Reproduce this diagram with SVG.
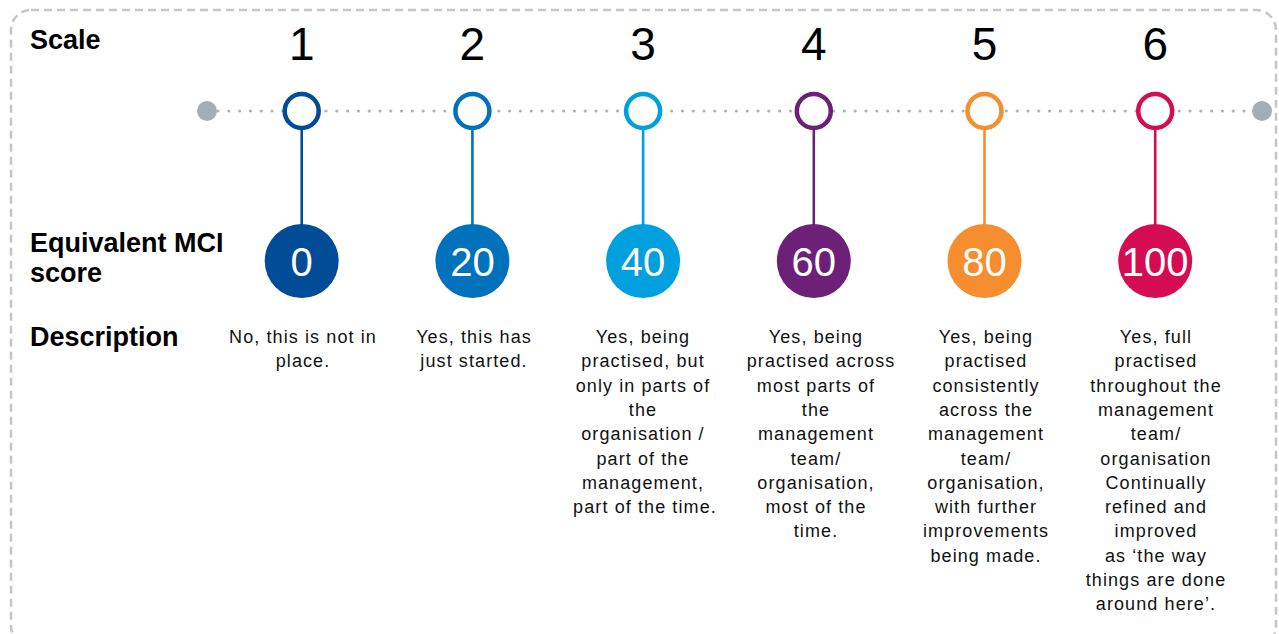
<svg xmlns="http://www.w3.org/2000/svg" width="1279" height="634" viewBox="0 0 1279 634">
  <style>
    .frame { fill: none; stroke: #c6c6c6; stroke-width: 2.5; stroke-dasharray: 8 5; }
    .rowlabel { font-family: "Liberation Sans", Arial, sans-serif; font-weight: bold; font-size: 27px; fill: #000; }
    .step { font-family: "Liberation Sans", Arial, sans-serif; font-size: 46px; fill: #000; text-anchor: middle; }
    .score { font-family: "Liberation Sans", Arial, sans-serif; font-size: 40px; fill: #fff; text-anchor: middle; }
    .desc { font-family: "Liberation Sans", Arial, sans-serif; font-size: 18px; letter-spacing: 1.1px; fill: #111; text-anchor: middle; }
    .track { stroke: #a9b4bc; stroke-width: 3.2; stroke-linecap: round; stroke-dasharray: 0 10.8; fill: none; }
    .end { fill: #a2adb5; }
    .ring { fill: #fff; stroke-width: 4.5; }
    .stem { stroke-width: 2.6; }
  </style>

  <!-- outer dashed frame -->
  <rect class="frame" x="11" y="10" width="1265" height="636" rx="20" ry="20"/>

  <!-- row headings -->
  <g id="labels">
    <text class="rowlabel" x="30" y="49">Scale</text>
    <text class="rowlabel" x="30" y="252">Equivalent MCI</text>
    <text class="rowlabel" x="30" y="282">score</text>
    <text class="rowlabel" x="30" y="346">Description</text>
  </g>

  <!-- timeline and stems -->
  <g id="connectors">
    <line class="track" x1="218" y1="111" x2="1252" y2="111"/>
    <line class="stem" stroke="#004c97" x1="301.7" y1="128" x2="301.7" y2="226"/>
    <line class="stem" stroke="#0072bc" x1="472.4" y1="128" x2="472.4" y2="226"/>
    <line class="stem" stroke="#00a0df" x1="643.1" y1="128" x2="643.1" y2="226"/>
    <line class="stem" stroke="#6d2077" x1="813.8" y1="128" x2="813.8" y2="226"/>
    <line class="stem" stroke="#f68d2e" x1="984.5" y1="128" x2="984.5" y2="226"/>
    <line class="stem" stroke="#d50c52" x1="1155.2" y1="128" x2="1155.2" y2="226"/>
  </g>

  <g id="end-left"><circle class="end" cx="207" cy="111" r="10"/></g>
  <g id="end-right"><circle class="end" cx="1262" cy="111" r="10"/></g>

  <g id="level-1">
    <text class="step" x="301.7" y="60">1</text>
    <circle class="ring" stroke="#004c97" cx="301.7" cy="111" r="17"/>
    <circle fill="#004c97" cx="301.7" cy="261" r="37"/>
    <text class="score" x="301.7" y="276">0</text>
    <text class="desc" x="303" y="343">No, this is not in</text>
    <text class="desc" x="303" y="367">place.</text>
  </g>

  <g id="level-2">
    <text class="step" x="472.4" y="60">2</text>
    <circle class="ring" stroke="#0072bc" cx="472.4" cy="111" r="17"/>
    <circle fill="#0072bc" cx="472.4" cy="261" r="37"/>
    <text class="score" x="472.4" y="276">20</text>
    <text class="desc" x="474" y="343">Yes, this has</text>
    <text class="desc" x="474" y="367">just started.</text>
  </g>

  <g id="level-3">
    <text class="step" x="643.1" y="60">3</text>
    <circle class="ring" stroke="#00a0df" cx="643.1" cy="111" r="17"/>
    <circle fill="#00a0df" cx="643.1" cy="261" r="37"/>
    <text class="score" x="643.1" y="276">40</text>
    <text class="desc" x="643" y="343">Yes, being</text>
    <text class="desc" x="643" y="367">practised, but</text>
    <text class="desc" x="643" y="392">only in parts of</text>
    <text class="desc" x="643" y="416">the</text>
    <text class="desc" x="643" y="440">organisation /</text>
    <text class="desc" x="643" y="465">part of the</text>
    <text class="desc" x="643" y="489">management,</text>
    <text class="desc" x="645" y="513">part of the time.</text>
  </g>

  <g id="level-4">
    <text class="step" x="813.8" y="60">4</text>
    <circle class="ring" stroke="#6d2077" cx="813.8" cy="111" r="17"/>
    <circle fill="#6d2077" cx="813.8" cy="261" r="37"/>
    <text class="score" x="813.8" y="276">60</text>
    <text class="desc" x="816" y="343">Yes, being</text>
    <text class="desc" x="821" y="367">practised across</text>
    <text class="desc" x="816" y="392">most parts of</text>
    <text class="desc" x="816" y="416">the</text>
    <text class="desc" x="816" y="440">management</text>
    <text class="desc" x="816" y="465">team/</text>
    <text class="desc" x="816" y="489">organisation,</text>
    <text class="desc" x="816" y="513">most of the</text>
    <text class="desc" x="816" y="537">time.</text>
  </g>

  <g id="level-5">
    <text class="step" x="984.5" y="60">5</text>
    <circle class="ring" stroke="#f68d2e" cx="984.5" cy="111" r="17"/>
    <circle fill="#f68d2e" cx="984.5" cy="261" r="37"/>
    <text class="score" x="984.5" y="276">80</text>
    <text class="desc" x="986" y="343">Yes, being</text>
    <text class="desc" x="986" y="367">practised</text>
    <text class="desc" x="986" y="392">consistently</text>
    <text class="desc" x="986" y="416">across the</text>
    <text class="desc" x="986" y="440">management</text>
    <text class="desc" x="986" y="465">team/</text>
    <text class="desc" x="986" y="489">organisation,</text>
    <text class="desc" x="986" y="513">with  further</text>
    <text class="desc" x="986" y="537">improvements</text>
    <text class="desc" x="986" y="562">being made.</text>
  </g>

  <g id="level-6">
    <text class="step" x="1155.2" y="60">6</text>
    <circle class="ring" stroke="#d50c52" cx="1155.2" cy="111" r="17"/>
    <circle fill="#d50c52" cx="1155.2" cy="261" r="37"/>
    <text class="score" x="1155.2" y="276">100</text>
    <text class="desc" x="1156" y="343">Yes, full</text>
    <text class="desc" x="1156" y="367">practised</text>
    <text class="desc" x="1156" y="392">throughout the</text>
    <text class="desc" x="1156" y="416">management</text>
    <text class="desc" x="1156" y="440">team/</text>
    <text class="desc" x="1156" y="465">organisation</text>
    <text class="desc" x="1156" y="489">Continually</text>
    <text class="desc" x="1156" y="513">refined  and</text>
    <text class="desc" x="1156" y="537">improved</text>
    <text class="desc" x="1156" y="562">as ‘the way</text>
    <text class="desc" x="1156" y="586">things are done</text>
    <text class="desc" x="1156" y="610">around here’.</text>
  </g>
</svg>
